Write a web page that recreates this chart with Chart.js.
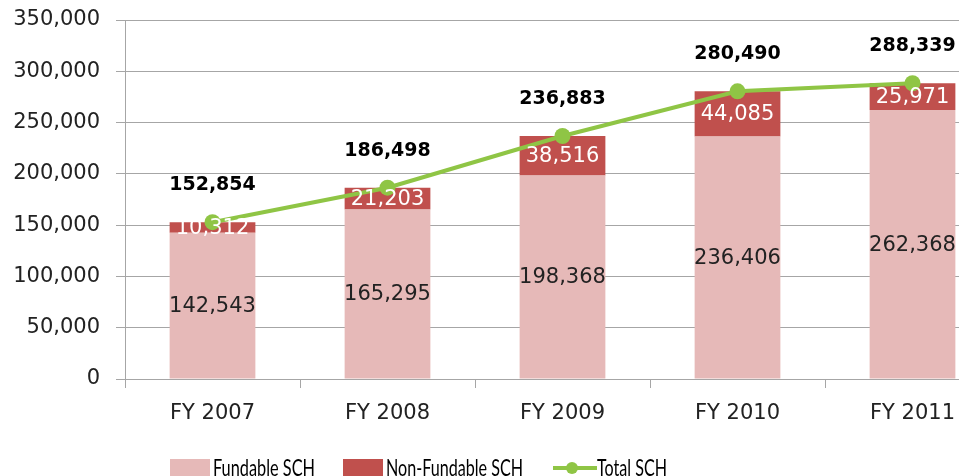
<!DOCTYPE html>
<html>
<head>
<meta charset="utf-8">
<script src="https://cdn.jsdelivr.net/npm/chart.js@4/dist/chart.umd.min.js"></script>
<style>
html,body{margin:0;padding:0;background:#fff;overflow:hidden;width:959px;height:476px;}
#wrap{position:absolute;left:0;top:0;width:1010px;height:500px;}
</style>
</head>
<body>
<div id="wrap"><canvas id="c" width="1010" height="500"></canvas></div>
<script>
const categories = ["FY 2007", "FY 2008", "FY 2009", "FY 2010", "FY 2011"];
const fundable = [142543, 165295, 198368, 236406, 262368];
const nonFundable = [10312, 21203, 38516, 44085, 25971];
const total = [152854, 186498, 236883, 280490, 288339];
const yTicks = [0, 50000, 100000, 150000, 200000, 250000, 300000, 350000];
const seriesNames = ["Fundable SCH", "Non-Fundable SCH", "Total SCH"];

const fmt = v => Number(v).toLocaleString('en-US');
const FONT = '"DejaVu Sans", sans-serif';
const PINK = '#E6B9B8', RED = '#C0504D', GREEN = '#8FC545', GRID = '#A6A6A6';

const labelPlugin = {
  id: 'valueLabels',
  afterDatasetsDraw(chart) {
    const ctx = chart.ctx;
    ctx.save();
    ctx.textAlign = 'center';
    ctx.textBaseline = 'middle';
    chart.data.datasets.forEach((ds, di) => {
      const meta = chart.getDatasetMeta(di);
      meta.data.forEach((el, i) => {
        const v = ds.data[i];
        if (ds.type === 'line') {
          ctx.font = 'bold 19px ' + FONT;
          ctx.fillStyle = '#000';
          ctx.fillText(fmt(v), el.x, el.y - 37);
        } else {
          const cy = (el.y + el.base) / 2;
          ctx.font = '21px ' + FONT;
          ctx.fillStyle = ds.labelColor;
          ctx.fillText(fmt(v), el.x, cy + 1);
        }
      });
    });
    ctx.restore();
  }
};

const legendPlugin = {
  id: 'customLegend',
  afterDraw(chart) {
    const ctx = chart.ctx;
    ctx.save();
    const ds = chart.data.datasets;
    const starts = [170, 343, 553];
    const textW = [102, 137, 70];
    ctx.font = '23px Lato, sans-serif';
    ctx.textBaseline = 'alphabetic';
    ctx.textAlign = 'left';
    const drawText = (t, x, w) => {
      const m = ctx.measureText(t).width;
      ctx.save();
      ctx.translate(x, 476);
      ctx.scale(w / m, 1);
      ctx.fillStyle = '#000';
      ctx.fillText(t, 0, 0);
      ctx.restore();
    };
    ds.forEach((d, i) => {
      const x = starts[i];
      if (d.type === 'line') {
        ctx.strokeStyle = d.borderColor;
        ctx.lineWidth = 4;
        ctx.beginPath(); ctx.moveTo(x, 468); ctx.lineTo(x + 44, 468); ctx.stroke();
        ctx.fillStyle = d.pointBackgroundColor;
        ctx.beginPath(); ctx.arc(x + 19, 468, 6, 0, Math.PI * 2); ctx.fill();
        drawText(d.label, x + 44, textW[i]);
      } else {
        ctx.fillStyle = d.backgroundColor;
        ctx.fillRect(x, 459, 40, 17);
        drawText(d.label, x + 43, textW[i]);
      }
    });
    ctx.restore();
  }
};

new Chart(document.getElementById('c'), {
  data: {
    labels: categories,
    datasets: [
      { type: 'bar', label: seriesNames[0], data: fundable, backgroundColor: PINK, labelColor: '#222', order: 2,
        barPercentage: 0.49, categoryPercentage: 1, borderWidth: 0 },
      { type: 'bar', label: seriesNames[1], data: nonFundable, backgroundColor: RED, labelColor: '#fff', order: 2,
        barPercentage: 0.49, categoryPercentage: 1, borderWidth: 0 },
      { type: 'line', label: seriesNames[2], data: total, borderColor: GREEN, borderWidth: 4,
        pointBackgroundColor: GREEN, pointBorderColor: GREEN, pointRadius: 8, pointBorderWidth: 0,
        tension: 0, order: 0 }
    ]
  },
  options: {
    responsive: false,
    animation: false,
    devicePixelRatio: 1,
    layout: { padding: { left: 0, top: 20, right: 10, bottom: 71 } },
    plugins: { legend: { display: false }, tooltip: { enabled: false } },
    scales: {
      x: {
        stacked: true,
        offset: true,
        grid: { display: true, drawOnChartArea: false, offset: true, tickLength: 9, color: GRID },
        border: { color: GRID, width: 1 },
        ticks: { font: { family: FONT, size: 21 }, color: '#222', padding: 13, maxRotation: 0 },
        afterFit(s) { s.height = 50; s.paddingLeft = 0; s.paddingRight = 0; }
      },
      y: {
        stacked: true,
        min: 0, max: 350000,
        afterBuildTicks(s) { s.ticks = yTicks.map(v => ({ value: v })); },
        grid: { color: GRID, tickLength: 9 },
        border: { color: GRID, width: 1 },
        ticks: { font: { family: FONT, size: 21 }, color: '#222', padding: 16, callback: v => fmt(v) },
        afterFit(s) { s.width = 125; s.paddingTop = 0; s.paddingBottom = 0; }
      }
    }
  },
  plugins: [labelPlugin, legendPlugin]
});
</script>
</body>
</html>
